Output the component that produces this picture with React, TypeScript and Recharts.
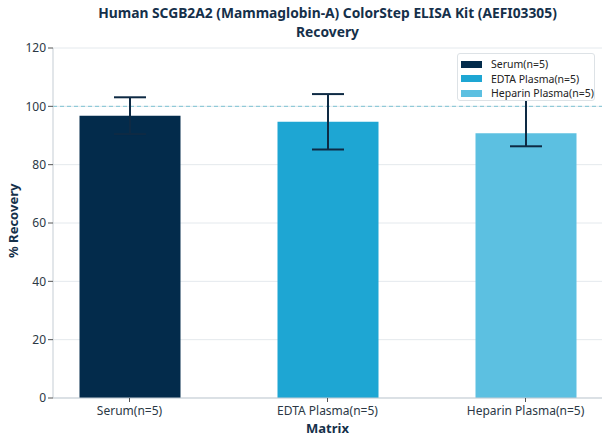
import React from 'react';
import { BarChart, Bar, XAxis, YAxis, CartesianGrid, ReferenceLine, ErrorBar, Cell } from 'recharts';

const categories = ['Serum(n=5)', 'EDTA Plasma(n=5)', 'Heparin Plasma(n=5)'];
const recovery = [96.8, 94.7, 90.8];
const errLow = [6.3, 9.5, 4.5];
const errHigh = [6.3, 9.5, 12.5];
const colors = ['#032b4b', '#1ea6d3', '#5cc0e1'];
const yTicks = [0, 20, 40, 60, 80, 100, 120];
const titleLines = ['Human SCGB2A2 (Mammaglobin-A) ColorStep ELISA Kit (AEFI03305)', 'Recovery'];

const data = categories.map((name, i) => ({ name, value: recovery[i], err: [errLow[i], errHigh[i]] }));

const FONT = '"Noto Sans", "Open Sans", sans-serif';
const NAVY = '#15304a';

export default function App() {
  return (
    <div style={{ position: 'absolute', left: 0, top: 0, width: 608, height: 444, fontFamily: FONT, background: '#fff' }}>
      {titleLines.map((t, i) => (
        <div key={t} style={{ position: 'absolute', left: 53, width: 549, top: 3 + i * 19, height: 19, textAlign: 'center', fontWeight: 700, fontSize: 13.8, lineHeight: '19px', color: NAVY, whiteSpace: 'nowrap' }}>
          {t}
        </div>
      ))}
      <BarChart width={608} height={444} data={data} margin={{ top: 48, right: 6, left: 0, bottom: 0 }}>
        <CartesianGrid vertical={false} stroke="#e4e9ed" strokeWidth={1} />
        <XAxis
          dataKey="name"
          height={46}
          padding={{ left: -22.5, right: -22.5 }}
          axisLine={{ stroke: '#c5cdd4' }}
          tickLine={{ stroke: '#555' }}
          tickSize={4}
          tickMargin={4}
          tick={{ fill: '#2b3845', fontSize: 12 }}
          label={{ value: 'Matrix', position: 'insideBottom', offset: 11, fill: NAVY, fontSize: 13, fontWeight: 700 }}
        />
        <YAxis
          width={53}
          domain={[0, 120]}
          ticks={yTicks}
          axisLine={{ stroke: '#c5cdd4' }}
          tickLine={{ stroke: '#555' }}
          tickSize={5}
          tick={{ fill: '#2b3845', fontSize: 12 }}
          label={{ value: '% Recovery', angle: -90, position: 'insideLeft', offset: 13, dy: 35, fill: NAVY, fontSize: 13, fontWeight: 700 }}
        />
        <ReferenceLine y={100} stroke="#7fc3d3" strokeDasharray="4 3" strokeWidth={1} />
        <Bar dataKey="value" barSize={101} isAnimationActive={false}>
          {data.map((d, i) => (<Cell key={d.name} fill={colors[i]} />))}
          <ErrorBar dataKey="err" direction="y" width={16} stroke="#0e2a44" strokeWidth={2} />
        </Bar>
      </BarChart>
      <div style={{ position: 'absolute', left: 457, top: 53, width: 136, height: 46, border: '1px solid #dde2e6', borderRadius: 3, background: '#fff', fontSize: 10.5, color: '#222', boxSizing: 'content-box' }}>
        {categories.map((c, i) => (
          <div key={c} style={{ position: 'absolute', left: 3, top: 3 + i * 14.7, height: 14, display: 'flex', alignItems: 'center' }}>
            <span style={{ display: 'inline-block', width: 21, height: 7, background: colors[i], marginRight: 9 }} />
            <span>{c}</span>
          </div>
        ))}
      </div>
    </div>
  );
}
